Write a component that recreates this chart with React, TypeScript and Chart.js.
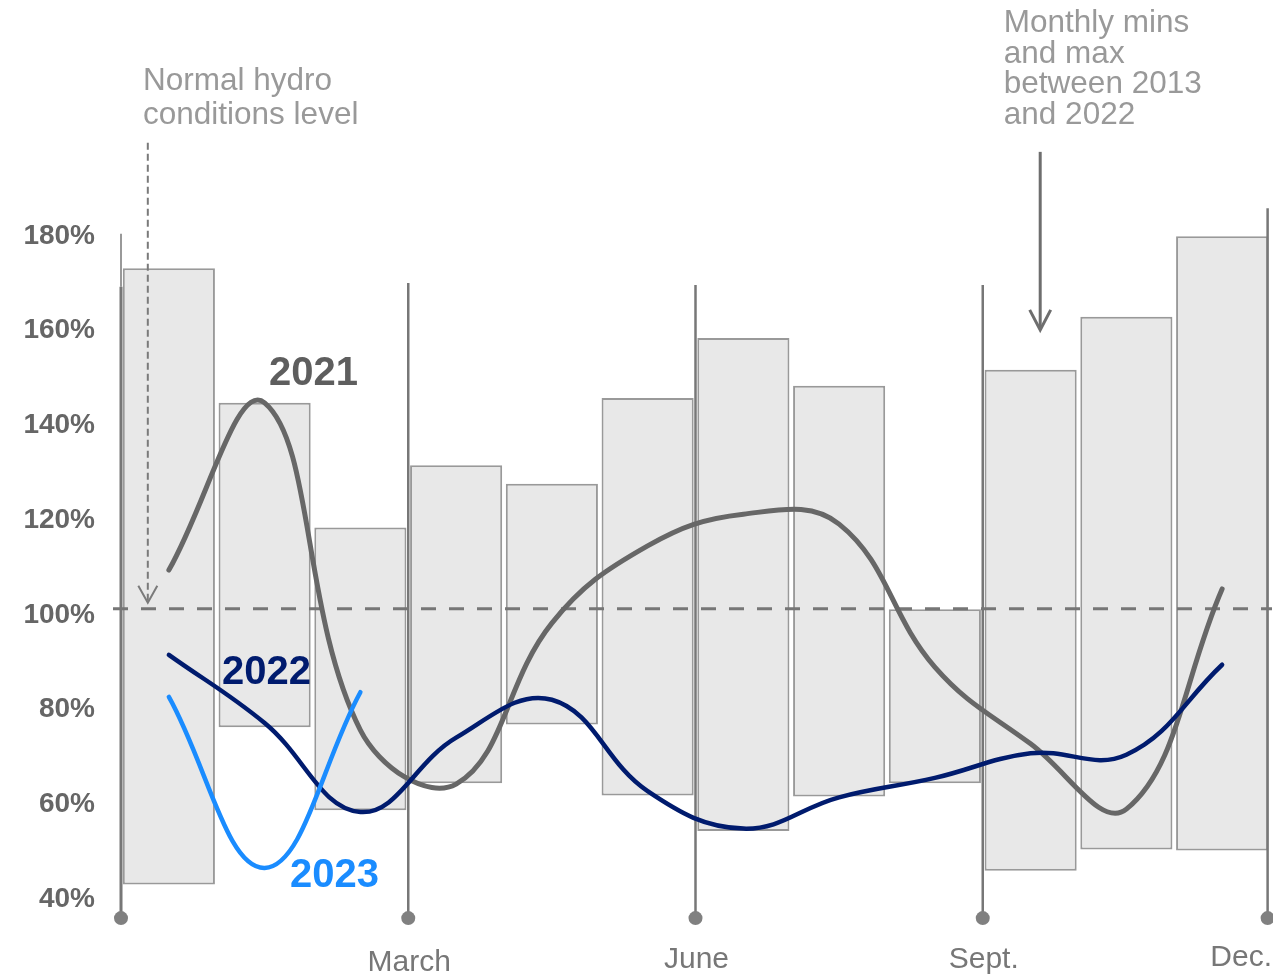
import React, { useEffect, useRef } from 'react';
import { Chart, registerables } from 'chart.js';

Chart.register(...registerables);

// ---------- data ----------
const months = ['Jan', 'Feb', 'Mar', 'Apr', 'May', 'Jun', 'Jul', 'Aug', 'Sep', 'Oct', 'Nov', 'Dec'];
const rangeMin = [41.8, 75.0, 57.5, 63.2, 75.6, 60.6, 53.1, 60.4, 63.2, 44.7, 49.2, 49.0];
const rangeMax = [171.9, 143.5, 117.2, 130.3, 126.4, 144.5, 157.2, 147.1, 99.9, 150.5, 161.7, 178.7];
const values2021 = [108.2, 143.5, 74.4, 63.0, 97.0, 113.3, 120.0, 117.9, 87.7, 71.5, 57.7, 104.2];
const values2022 = [90.3, 75.9, 57.1, 72.8, 80.8, 61.5, 53.6, 60.2, 64.3, 69.5, 69.2, 88.2];
const values2023 = [81.4, 45.3, 82.4];
const yTickValues = [40, 60, 80, 100, 120, 140, 160, 180];
const quarterLabels = ['March', 'June', 'Sept.', 'Dec.'];
const quarterBounds = [3, 6, 9, 12];
const NORMAL_LEVEL = 100;

const FONT = "'Liberation Sans', Arial, Helvetica, sans-serif";
const GRAY_LINE = '#676767';
const NAVY = '#001b6e';
const BLUE = '#1a8cff';

const monthPos = (i: number) => i + 0.5;

const decorPlugin = {
  id: 'decor',
  afterDatasetDraw(chart: any, args: any) {
    if (args.index !== 0) return;
    const { ctx, scales, chartArea } = chart;
    const x = scales.x;
    const y = scales.y;
    ctx.save();
    // normal level dashed line
    const y100 = y.getPixelForValue(NORMAL_LEVEL);
    ctx.setLineDash([15, 13]);
    ctx.lineWidth = 3;
    ctx.strokeStyle = '#767676';
    ctx.beginPath();
    ctx.moveTo(chartArea.left - 8, y100);
    ctx.lineTo(chartArea.right + 2, y100);
    ctx.stroke();
    ctx.setLineDash([]);

    // quarter dividers with dots
    const bounds = [0, 3, 6, 9, 11.975];
    const tops = [168, 168.8, 168.4, 168.4, 184.6];
    const dotVal = 34.7;
    bounds.forEach((b, k) => {
      const px = x.getPixelForValue(b);
      const yTop = y.getPixelForValue(tops[k]);
      const yBot = y.getPixelForValue(dotVal);
      ctx.strokeStyle = '#777777';
      ctx.lineWidth = k === 0 ? 3 : 2.5;
      ctx.beginPath();
      ctx.moveTo(px, yTop);
      ctx.lineTo(px, yBot);
      ctx.stroke();
      if (k === 0) {
        ctx.lineWidth = 1.5;
        ctx.beginPath();
        ctx.moveTo(px, y.getPixelForValue(179.2));
        ctx.lineTo(px, yTop);
        ctx.stroke();
      }
      ctx.fillStyle = '#808080';
      ctx.beginPath();
      ctx.arc(px, yBot, 7, 0, Math.PI * 2);
      ctx.fill();
    });
    ctx.restore();
  },
  afterDraw(chart: any) {
    const { ctx, scales } = chart;
    const x = scales.x;
    const y = scales.y;
    ctx.save();

    // series labels
    ctx.textAlign = 'center';
    ctx.textBaseline = 'alphabetic';
    ctx.font = `bold 40px ${FONT}`;
    ctx.fillStyle = '#5e5e5e';
    ctx.fillText('2021', x.getPixelForValue(2.01), y.getPixelForValue(147.3));
    ctx.fillStyle = NAVY;
    ctx.fillText('2022', x.getPixelForValue(1.52), y.getPixelForValue(84.1));
    ctx.fillStyle = BLUE;
    ctx.fillText('2023', x.getPixelForValue(2.23), y.getPixelForValue(41.3));

    // quarter labels
    ctx.font = `30px ${FONT}`;
    ctx.fillStyle = '#777777';
    const bases = [971, 968, 968, 966];
    quarterBounds.forEach((b, k) => {
      const px = x.getPixelForValue(b);
      if (k === quarterBounds.length - 1) {
        ctx.textAlign = 'right';
        ctx.fillText(quarterLabels[k], px + 2, bases[k]);
      } else {
        ctx.textAlign = 'center';
        ctx.fillText(quarterLabels[k], px + 1, bases[k]);
      }
    });

    // annotations
    ctx.font = `31.5px ${FONT}`;
    ctx.fillStyle = '#999999';
    ctx.textAlign = 'left';
    const nx = x.getPixelForValue(0.23);
    ctx.fillText('Normal hydro', nx, 90);
    ctx.fillText('conditions level', nx, 124);

    const mx = x.getPixelForValue(9.22);
    ctx.font = `31.5px ${FONT}`;
    ['Monthly mins', 'and max', 'between 2013', 'and 2022'].forEach((t, i) => {
      ctx.fillText(t, mx, 32 + i * 30.7);
    });

    // dashed arrow to normal level
    const ax = x.getPixelForValue(0.28);
    const aTop = y.getPixelForValue(198.4);
    const aTip = y.getPixelForValue(101.3);
    ctx.strokeStyle = '#7a7a7a';
    ctx.lineWidth = 2;
    ctx.setLineDash([7, 4]);
    ctx.beginPath();
    ctx.moveTo(ax, aTop);
    ctx.lineTo(ax, aTip - 1);
    ctx.stroke();
    ctx.setLineDash([]);
    ctx.beginPath();
    ctx.moveTo(ax - 9.5, aTip - 17);
    ctx.lineTo(ax, aTip);
    ctx.lineTo(ax + 9.5, aTip - 17);
    ctx.stroke();

    // solid arrow to bars
    const bx = x.getPixelForValue(9.6);
    const bTop = y.getPixelForValue(196.5);
    const bTip = y.getPixelForValue(158.9);
    ctx.strokeStyle = '#6e6e6e';
    ctx.lineWidth = 3;
    ctx.beginPath();
    ctx.moveTo(bx, bTop);
    ctx.lineTo(bx, bTip - 1);
    ctx.stroke();
    ctx.beginPath();
    ctx.moveTo(bx - 10.5, bTip - 20);
    ctx.lineTo(bx, bTip);
    ctx.lineTo(bx + 10.5, bTip - 20);
    ctx.stroke();

    ctx.restore();
  },
};

export default function App() {
  const ref = useRef<HTMLCanvasElement>(null);

  useEffect(() => {
    const canvas = ref.current;
    if (!canvas) return;
    const toPoints = (arr: number[]) => arr.map((v, i) => ({ x: monthPos(i), y: v }));
    const lineCommon = {
      type: 'line' as const,
      pointRadius: 0,
      pointHoverRadius: 0,
      tension: 0.4,
      fill: false,
      borderCapStyle: 'round' as const,
      borderJoinStyle: 'round' as const,
    };
    const chart = new Chart(canvas, {
      type: 'bar',
      data: {
        labels: months,
        datasets: [
          {
            type: 'bar',
            label: 'Range 2013-2022',
            data: months.map((_, i) => ({ x: monthPos(i), y: [rangeMin[i], rangeMax[i]] })) as any,
            backgroundColor: '#e8e8e8',
            borderColor: '#999999',
            borderWidth: 2,
            borderSkipped: false,
            categoryPercentage: 0.962,
            barPercentage: 1,
            order: 10,
          } as any,
          {
            ...lineCommon,
            label: '2021',
            data: toPoints(values2021),
            borderColor: GRAY_LINE,
            borderWidth: 5,
            order: 3,
          },
          {
            ...lineCommon,
            label: '2022',
            data: toPoints(values2022),
            borderColor: NAVY,
            borderWidth: 4.5,
            order: 2,
          },
          {
            ...lineCommon,
            label: '2023',
            data: toPoints(values2023),
            borderColor: BLUE,
            borderWidth: 4.5,
            order: 1,
          },
        ],
      },
      options: {
        responsive: false,
        animation: false,
        events: [],
        layout: { padding: { top: 230, bottom: 83, left: 0, right: 3 } },
        plugins: {
          legend: { display: false },
          tooltip: { enabled: false },
        },
        scales: {
          x: {
            type: 'linear',
            min: 0,
            max: 12,
            display: false,
            offset: false,
          },
          y: {
            min: 40,
            max: 180,
            afterFit: (scale: any) => {
              scale.width = 121;
            },
            afterBuildTicks: (scale: any) => {
              scale.ticks = yTickValues.map((v) => ({ value: v }));
            },
            grid: { display: false, drawTicks: false },
            border: { display: false },
            ticks: {
              padding: 26,
              labelOffset: 6,
              color: '#666666',
              font: { family: FONT, size: 28, weight: 'bold' },
              callback: (v: any) => `${v}%`,
            },
          },
        },
      },
      plugins: [decorPlugin],
    });
    return () => chart.destroy();
  }, []);

  return (
    <div style={{ position: 'absolute', left: 0, top: 0, width: 1273, height: 976, background: '#ffffff' }}>
      <canvas ref={ref} width={1273} height={976} style={{ display: 'block' }} />
    </div>
  );
}
